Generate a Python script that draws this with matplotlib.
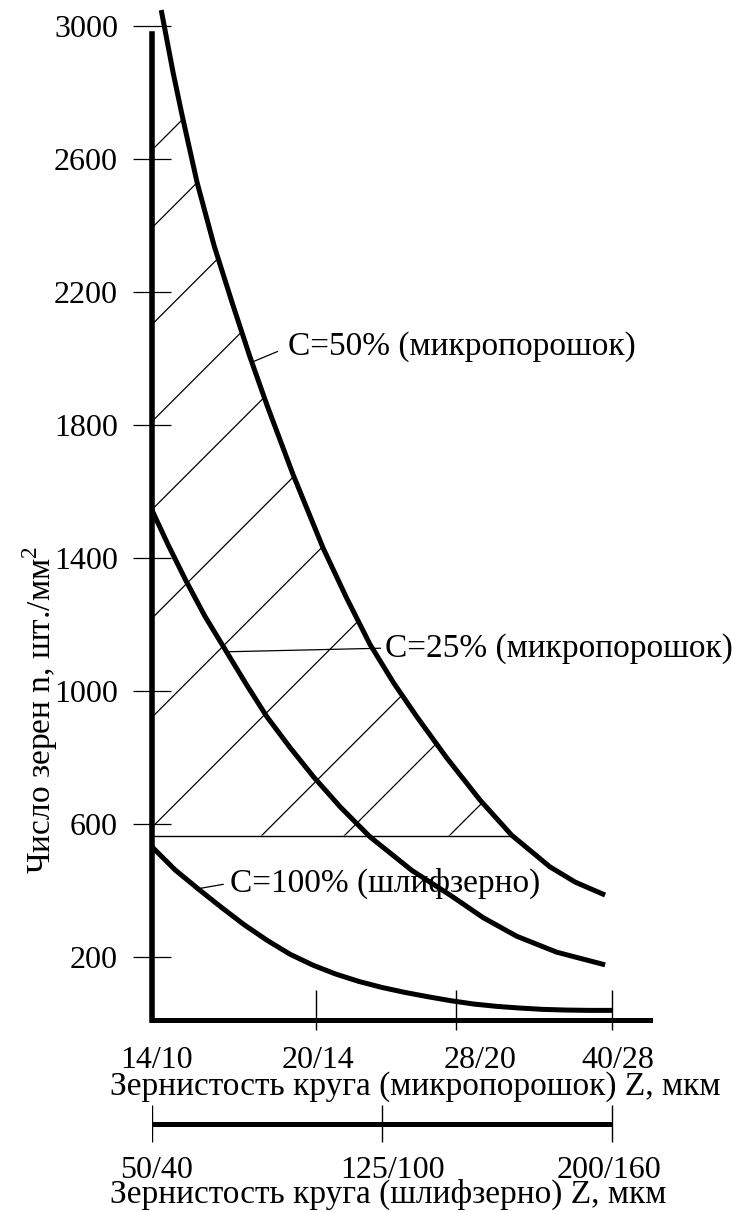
import numpy as np
import matplotlib
matplotlib.use('Agg')
import matplotlib.pyplot as plt
from matplotlib.patches import Polygon
from matplotlib.transforms import blended_transform_factory

plt.rcParams['font.family'] = ['Liberation Serif', 'DejaVu Serif']
plt.rcParams['mathtext.fontset'] = 'custom'
plt.rcParams['mathtext.rm'] = 'Liberation Serif'
plt.rcParams['font.size'] = 24

# grit scale: micropowder marks on the main axis, grinding grain on the lower bar
micro_labels = ['14/10', '20/14', '28/20', '40/28']
micro_pos = [0, 35.7, 66.1, 100]
micro_label_pos = [1.0, 36.1, 71.3, 101.3]
grain_labels = ['50/40', '125/100', '200/160']
grain_pos = [50, 125, 200]
grain_label_pos = [51.6, 128.6, 199.0]

y_ticks = [200, 600, 1000, 1400, 1800, 2200, 2600, 3000]

# number of grains per mm^2
c50_x = [2.0, 4.6, 6.5, 9.8, 13.5, 17.5, 21.3, 25.0, 30.7, 37.2, 42.3, 47.4, 52.5, 57.6, 64.0,
         71.3, 78.2, 86.5, 92.0, 98.5]
c50_y = [3049, 2860, 2735, 2530, 2340, 2165, 2005, 1860, 1650, 1430, 1280, 1140, 1025, 922, 800,
         672, 566, 471, 425, 386]

c25_x = [0, 3.5, 7.3, 11.5, 16.2, 20.5, 25.0, 30.0, 35.1, 41.0, 47.4, 56.5, 64.8, 72.0, 79.3, 88.0, 98.5]
c25_y = [1544, 1440, 1334, 1225, 1118, 1020, 922, 830, 742, 650, 561, 460, 386, 318, 262, 214, 176]

c100_x = [0, 5, 10, 15, 20, 25, 30, 35, 40, 45, 50, 55, 60, 65, 70, 75, 80, 85, 90, 95, 100]
c100_y = [531, 462, 405, 350, 297, 250, 208, 175, 148, 126, 108, 93, 80, 68, 58, 51, 46, 42, 40, 39, 39]

n_limit = 565
# where each hatch stroke would meet the n axis (x = 0)
hatch_y0 = [2628, 2394, 2103, 1811, 1546, 1219, 921, 590, 235, -14, -330]

fig = plt.figure(figsize=(7.39, 12.12), dpi=100)
ax = fig.add_axes([0.2057, 0.1584, 0.6735, 0.8418])
ax.set_xlim(0, 108.2)
ax.set_ylim(10, 3080)

for s in ['top', 'right']:
    ax.spines[s].set_visible(False)
ax.spines['left'].set_linewidth(4)
ax.spines['left'].set_bounds(10, 2978)
ax.spines['bottom'].set_linewidth(3.6)

ax.set_xticks([])
ax.set_yticks(y_ticks)
ax.tick_params(axis='y', direction='inout', length=28, width=0.9, pad=10.5, labelsize=23)

# curves
for xs, ys in [(c50_x, c50_y), (c25_x, c25_y), (c100_x, c100_y)]:
    ax.plot(xs, ys, color='black', lw=3.6, solid_capstyle='butt',
            solid_joinstyle='round', clip_on=False)

# limit line up to the C=50% curve
x_cross = np.interp(n_limit, c50_y[::-1], c50_x[::-1])
ax.plot([0, x_cross], [n_limit, n_limit], color='black', lw=1.0)

# hatched zone between the axis, C=50% curve and the limit line
verts = [(0, n_limit), (0, c50_y[0])]
verts += [(x, y) for x, y in zip(c50_x, c50_y) if y >= n_limit]
verts += [(x_cross, n_limit)]
zone = Polygon(verts, closed=True, facecolor='none', edgecolor='none')
ax.add_patch(zone)

p0 = ax.transData.transform((0, 0))
p1 = ax.transData.transform((1, 1))
slope = (p1[0] - p0[0]) / (p1[1] - p0[1])
hx = np.array([0, 110])
for y0 in hatch_y0:
    ln, = ax.plot(hx, y0 + slope * hx, color='black', lw=0.9)
    ln.set_clip_path(zone)

# curve labels
ax.annotate('C=50% (микропорошок)', xy=(21.7, np.interp(21.7, c50_x, c50_y)),
            xytext=(29.6, 2035), ha='left', va='center',
            arrowprops=dict(arrowstyle='-', color='black', lw=0.9,
                            shrinkA=6, shrinkB=0, relpos=(0, 0.5)))
ax.annotate('C=25% (микропорошок)', xy=(16.2, np.interp(16.2, c25_x, c25_y)),
            xytext=(50.6, 1129), ha='left', va='center',
            arrowprops=dict(arrowstyle='-', color='black', lw=0.9,
                            shrinkA=1, shrinkB=0, relpos=(0, 0.5)))
ax.annotate('C=100% (шлифзерно)', xy=(10.0, np.interp(10.0, c100_x, c100_y)),
            xytext=(17.0, 422), ha='left', va='center',
            arrowprops=dict(arrowstyle='-', color='black', lw=0.9,
                            shrinkA=3, shrinkB=0, relpos=(0, 0.5)))

# micropowder grit ticks and labels
ax.vlines(micro_pos[1:], -20, 100, color='black', lw=1.0, clip_on=False)
tr = blended_transform_factory(ax.transData, fig.transFigure)
for x, lab in zip(micro_label_pos, micro_labels):
    ax.text(x, 0.1188, lab, transform=tr, ha='center', va='baseline', fontsize=23)
fig.text(0.1488, 0.0965, 'Зернистость круга (микропорошок) Z, мкм', ha='left', va='baseline')

# grinding grain bar
ax2 = fig.add_axes([0.2057, (1212 - 1145) / 1212, 0.6735, 45 / 1212])
x0, x1 = ax.get_xlim()
ax2.set_xlim(50 + 1.5 * x0, 50 + 1.5 * x1)
ax2.set_ylim(0, 1)
ax2.axis('off')
ax2.plot([grain_pos[0], grain_pos[-1]], [0.467, 0.467], color='black', lw=3.6, solid_capstyle='butt')
ax2.vlines(grain_pos, 0.067, 0.889, color='black', lw=1.0)
tr2 = blended_transform_factory(ax2.transData, fig.transFigure)
for x, lab in zip(grain_label_pos, grain_labels):
    ax2.text(x, 0.028, lab, transform=tr2, ha='center', va='baseline', fontsize=23)
fig.text(0.1488, 0.0074, 'Зернистость круга (шлифзерно) Z, мкм', ha='left', va='baseline')

fig.text(0.054, 0.414, 'Число зерен n, шт./мм$^2$', rotation=90, ha='center', va='center')

fig.savefig('out.png', dpi=100)
